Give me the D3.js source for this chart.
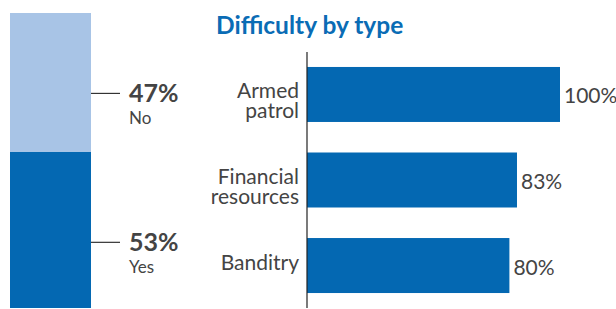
<!DOCTYPE html>
<html>
<head>
<meta charset="utf-8">
<script src="https://cdn.jsdelivr.net/npm/d3@7"></script>
<style>
  body { margin: 0; background: #fff; }
  text { font-family: Lato, "Open Sans", sans-serif; }
</style>
</head>
<body>
<div id="chart"></div>
<script>
// left stacked bar: share answering yes / no
const shareLabels = ['Yes', 'No'];
const shareValues = [53, 47];
// right bars: difficulty by type
const typeLabels = [['Armed', 'patrol'], ['Financial', 'resources'], ['Banditry']];
const typeValues = [100, 83, 80];
const title = 'Difficulty by type';

const W = 616, H = 309;
const dark = '#0468b2', light = '#a8c4e6', ink = '#444';

const svg = d3.select('#chart').append('svg').attr('width', W).attr('height', H);

// ---- left stacked column
let ys = d3.scaleLinear().domain([0, 100]).range([308, 13]);
let acc = 0;
let segs = shareValues.map((v, i) => {
  let s = { label: shareLabels[i], value: v, y0: acc, y1: acc + v };
  acc += v;
  return s;
});
let left = svg.append('g');
left.selectAll('rect').data(segs).enter().append('rect')
  .attr('x', 10).attr('width', 81)
  .attr('y', d => ys(d.y1))
  .attr('height', d => ys(d.y0) - ys(d.y1))
  .attr('fill', (d, i) => i == 0 ? dark : light);

let lab = left.selectAll('g.lab').data(segs).enter().append('g').attr('class', 'lab')
  .attr('transform', d => 'translate(0,' + (ys(d.y1) + 0.58 * (ys(d.y0) - ys(d.y1))) + ')');
lab.append('line').attr('x1', 91).attr('x2', 120).attr('y1', 0).attr('y2', 0)
  .attr('stroke', '#333').attr('stroke-width', 1.2);
lab.append('text').attr('x', 129).attr('y', 9)
  .attr('font-size', 25).attr('font-weight', 'bold').attr('fill', ink)
  .text(d => d.value + '%');
lab.append('text').attr('x', 129).attr('y', 31)
  .attr('font-size', 17).attr('fill', ink)
  .text(d => d.label);

// ---- right bar chart
svg.append('text').attr('x', 216).attr('y', 34)
  .attr('font-size', 24.5).attr('font-weight', 'bold').attr('fill', '#0a6cb5')
  .text(title);

let x = d3.scaleLinear().domain([0, 100]).range([307, 560]);
let y = d3.scaleBand().domain(d3.range(typeValues.length)).range([52, 308])
  .paddingInner(0.357).paddingOuter(0.175);

let bars = svg.append('g');
bars.selectAll('rect').data(typeValues).enter().append('rect')
  .attr('x', x(0)).attr('y', (d, i) => y(i))
  .attr('width', d => x(d) - x(0)).attr('height', y.bandwidth())
  .attr('fill', dark);

bars.selectAll('text.val').data(typeValues).enter().append('text').attr('class', 'val')
  .attr('x', d => x(d) + 4)
  .attr('y', (d, i) => y(i) + y.bandwidth() / 2 + 9)
  .attr('font-size', 21).attr('fill', ink)
  .text(d => d + '%');

let cats = bars.selectAll('text.cat').data(typeLabels).enter().append('text').attr('class', 'cat')
  .attr('text-anchor', 'end').attr('font-size', 21).attr('fill', ink)
  .attr('y', (d, i) => y(i) + y.bandwidth() / 2 + 4);
cats.selectAll('tspan').data(d => d).enter().append('tspan')
  .attr('x', 299).attr('dy', (d, i) => i == 0 ? 0 : 20)
  .text(d => d);

// axis line
svg.append('line').attr('x1', x(0)).attr('x2', x(0)).attr('y1', 52).attr('y2', 308)
  .attr('stroke', '#222').attr('stroke-width', 1.2);
</script>
</body>
</html>
